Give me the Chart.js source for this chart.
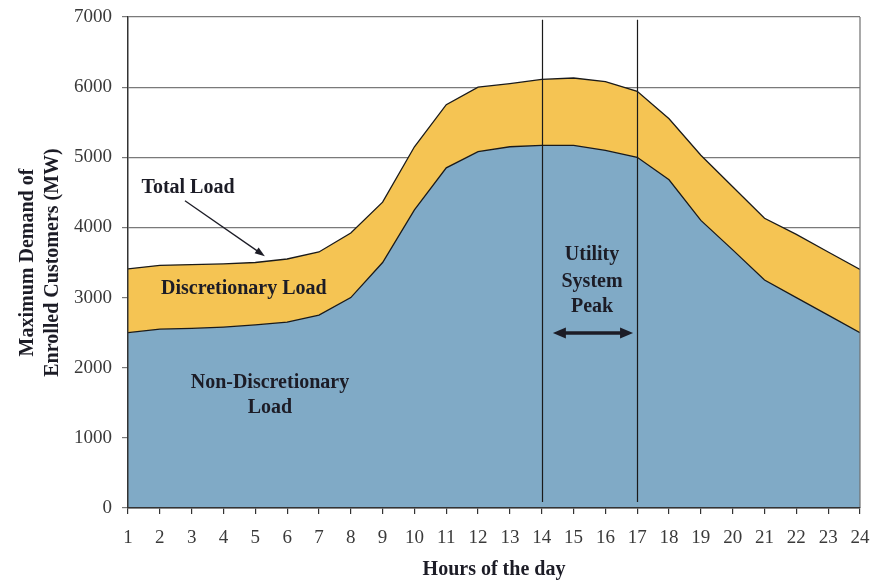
<!DOCTYPE html>
<html>
<head>
<meta charset="utf-8">
<script src="https://cdn.jsdelivr.net/npm/chart.js@4/dist/chart.umd.min.js"></script>
<style>
  html, body { margin: 0; padding: 0; background: #ffffff; }
  #wrap { width: 875px; height: 582px; }
</style>
</head>
<body>
<div id="wrap"><canvas id="c" width="875" height="582"></canvas></div>
<script>
// ---- data ----
const hours = [1,2,3,4,5,6,7,8,9,10,11,12,13,14,15,16,17,18,19,20,21,22,23,24];
const nonDiscretionaryLoad = [2500,2550,2560,2580,2610,2650,2750,3000,3500,4250,4850,5080,5150,5170,5170,5100,5000,4680,4100,3680,3250,3000,2750,2500];
const totalLoad = [3410,3460,3470,3480,3500,3550,3650,3920,4360,5150,5750,6000,6050,6110,6130,6080,5940,5550,5030,4580,4130,3900,3650,3400];
const yTicks = [0,1000,2000,3000,4000,5000,6000,7000];
const peakStart = 14;
const peakEnd = 17;

const serif = '"Liberation Serif", "Times New Roman", serif';

const overlay = {
  id: 'overlay',
  afterDatasetsDraw(chart) {
    const { ctx, chartArea: a, scales: { x, y } } = chart;
    const X = v => x.getPixelForValue(v);
    const Y = v => y.getPixelForValue(v);
    ctx.save();
    // right border
    ctx.strokeStyle = '#6f6f6f';
    ctx.lineWidth = 1.2;
    ctx.beginPath();
    ctx.moveTo(a.right, a.top);
    ctx.lineTo(a.right, a.bottom);
    ctx.stroke();
    // peak lines
    ctx.strokeStyle = '#1a1a1a';
    ctx.lineWidth = 1.2;
    [peakStart, peakEnd].forEach(h => {
      ctx.beginPath();
      ctx.moveTo(Math.round(X(h)) + 0.5, Y(6960));
      ctx.lineTo(Math.round(X(h)) + 0.5, Y(85));
      ctx.stroke();
    });
    // texts
    ctx.fillStyle = '#1c1c26';
    ctx.font = 'bold 20px ' + serif;
    ctx.textAlign = 'center';
    ctx.textBaseline = 'middle';
    ctx.fillText('Total Load', X(2.885), Y(4560));
    ctx.fillText('Discretionary Load', X(4.64), Y(3120));
    ctx.fillText('Non-Discretionary', X(5.46), Y(1780));
    ctx.fillText('Load', X(5.46), Y(1425));
    ctx.fillText('Utility', X(15.58), Y(3610));
    ctx.fillText('System', X(15.58), Y(3225));
    ctx.fillText('Peak', X(15.58), Y(2865));

    function head(xt, yt, ang, len, wid) {
      ctx.beginPath();
      ctx.moveTo(xt, yt);
      ctx.lineTo(xt - len * Math.cos(ang) + wid / 2 * Math.sin(ang), yt - len * Math.sin(ang) - wid / 2 * Math.cos(ang));
      ctx.lineTo(xt - len * Math.cos(ang) - wid / 2 * Math.sin(ang), yt - len * Math.sin(ang) + wid / 2 * Math.cos(ang));
      ctx.closePath();
      ctx.fill();
    }
    // total load arrow
    ctx.strokeStyle = '#1c1c26';
    ctx.fillStyle = '#1c1c26';
    const x1 = X(2.79), y1 = Y(4380), x2 = X(5.30), y2 = Y(3590);
    const ang = Math.atan2(y2 - y1, x2 - x1);
    ctx.lineWidth = 1.3;
    ctx.beginPath();
    ctx.moveTo(x1, y1);
    ctx.lineTo(x2 - 8 * Math.cos(ang), y2 - 8 * Math.sin(ang));
    ctx.stroke();
    head(x2, y2, ang, 10, 7);
    // peak double arrow
    const px1 = X(14.35), px2 = X(16.87), py = Y(2495);
    ctx.lineWidth = 3.5;
    ctx.beginPath();
    ctx.moveTo(px1 + 10, py);
    ctx.lineTo(px2 - 10, py);
    ctx.stroke();
    head(px2, py, 0, 13, 11);
    head(px1, py, Math.PI, 13, 11);
    ctx.restore();
  }
};

new Chart(document.getElementById('c'), {
  type: 'line',
  data: {
    datasets: [
      {
        label: 'Non-Discretionary Load',
        data: hours.map((h, i) => ({ x: h, y: nonDiscretionaryLoad[i] })),
        backgroundColor: '#80aac6',
        borderColor: '#1a1a1a',
        borderWidth: 1.3,
        fill: 'origin',
        pointRadius: 0,
        tension: 0
      },
      {
        label: 'Total Load',
        data: hours.map((h, i) => ({ x: h, y: totalLoad[i] })),
        backgroundColor: '#f5c453',
        borderColor: '#1a1a1a',
        borderWidth: 1.3,
        fill: '-1',
        pointRadius: 0,
        tension: 0
      }
    ]
  },
  options: {
    responsive: false,
    animation: false,
    events: [],
    layout: { padding: { left: 0, right: 15, top: 17, bottom: 0 } },
    plugins: { legend: { display: false }, tooltip: { enabled: false } },
    scales: {
      x: {
        type: 'linear',
        min: 1,
        max: 24,
        afterBuildTicks(scale) { scale.ticks = hours.map(v => ({ value: v })); },
        afterFit(scale) { scale.height = 74; scale.paddingLeft = 0; scale.paddingRight = 0; },
        grid: { drawOnChartArea: false, drawTicks: true, tickLength: 6, color: '#333333', lineWidth: 1.2 },
        border: { display: true, color: '#333333', width: 1.5, z: 1 },
        ticks: { color: '#3a3a3a', padding: 13, maxRotation: 0, autoSkip: false, font: { family: serif, size: 19 }, callback: v => String(v) },
        title: { display: true, text: 'Hours of the day', color: '#1c1c26', padding: { top: 0, bottom: 0 }, font: { family: serif, size: 20, weight: 'bold', lineHeight: 1.25 } }
      },
      y: {
        min: 0,
        max: 7000,
        afterBuildTicks(scale) { scale.ticks = yTicks.map(v => ({ value: v })); },
        afterFit(scale) { scale.width = 128; scale.paddingTop = 0; scale.paddingBottom = 0; },
        grid: { color: '#7a7a7a', lineWidth: 1.2, tickLength: 6, drawTicks: true },
        border: { display: true, color: '#333333', width: 1.5, z: 1 },
        ticks: { color: '#3a3a3a', padding: 10, font: { family: serif, size: 19 }, callback: v => String(v) },
        title: { display: true, text: ['Maximum Demand of', 'Enrolled Customers (MW)'], color: '#1c1c26', padding: { top: 15, bottom: 0 }, font: { family: serif, size: 20, weight: 'bold', lineHeight: 1.25 } }
      }
    }
  },
  plugins: [overlay]
});
</script>
</body>
</html>
